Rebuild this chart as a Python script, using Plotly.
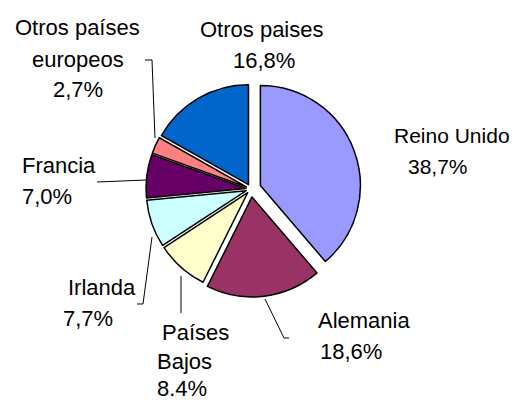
import plotly.graph_objects as go

# ---- data ----
countries = ["Reino Unido", "Alemania", "Países Bajos", "Irlanda", "Francia",
             "Otros países europeos", "Otros paises"]
shares = [38.7, 18.6, 8.4, 7.7, 7.0, 2.7, 16.8]
pct_text = ["38,7%", "18,6%", "8.4%", "7,7%", "7,0%", "2,7%", "16,8%"]
label_lines = [
    ["Reino Unido"], ["Alemania"], ["Países", "Bajos"], ["Irlanda"],
    ["Francia"], ["Otros países", "europeos"], ["Otros paises"],
]

# ---- styles / layout ----
W, H = 512, 401
colors = ["#9999FF", "#993366", "#FFFFCC", "#CCFFFF", "#660066", "#FF8080", "#0066CC"]
pulls = [0.10, 0.08, 0.05, 0.05, 0.05, 0.05, 0.05]

cx, cy, r = 251, 189, 100
box = 2 * r * (1 + max(pulls))

fig = go.Figure(go.Pie(
    labels=countries, values=shares, sort=False, direction="clockwise",
    rotation=0, pull=pulls, textinfo="none", hoverinfo="label+percent",
    marker=dict(colors=colors, line=dict(color="black", width=1.5)),
    domain=dict(x=[(cx - box / 2) / W, (cx + box / 2) / W],
                y=[1 - (cy + box / 2) / H, 1 - (cy - box / 2) / H]),
    showlegend=False,
))

# label placement (px): left x of each line, y centre of each line
label_pos = [
    [(393, 135), (407, 166)],
    [(317, 320), (319, 351)],
    [(161, 332), (156, 361), (156, 388)],
    [(67, 287), (62, 318)],
    [(21, 165), (21, 196)],
    [(14, 28), (31, 59), (52, 89)],
    [(199, 29), (232, 60)],
]
label_size = [21, 22, 22, 22, 22, 22, 22]

anns = []
for lines, pct, pos, fs in zip(label_lines, pct_text, label_pos, label_size):
    font = dict(family="Liberation Sans, Arial, sans-serif", size=fs, color="black")
    for txt, (x, y) in zip(lines + [pct], pos):
        anns.append(dict(x=x / W, y=1 - y / H, xref="paper", yref="paper",
                         text=txt, showarrow=False, xanchor="left",
                         yanchor="middle", font=font, borderpad=0))

leaders = [
    [(145, 60), (152, 60), (155, 138)],
    [(97, 182), (146, 180)],
    [(152, 237), (143, 304), (137, 304)],
    [(181, 276), (181, 313)],
    [(265, 299), (284, 338), (289, 338)],
]
shapes = []
for pts in leaders:
    path = "M " + " L ".join(f"{x / W:.5f},{1 - y / H:.5f}" for x, y in pts)
    shapes.append(dict(type="path", path=path, xref="paper", yref="paper",
                       line=dict(color="black", width=1)))

fig.update_layout(
    width=W, height=H, margin=dict(l=0, r=0, t=0, b=0),
    paper_bgcolor="white", plot_bgcolor="white",
    annotations=anns, shapes=shapes,
)

fig.write_html("out.html", config={"displayModeBar": False},
               post_script="document.body.style.margin='0';"
                           "document.body.style.overflow='hidden';")
